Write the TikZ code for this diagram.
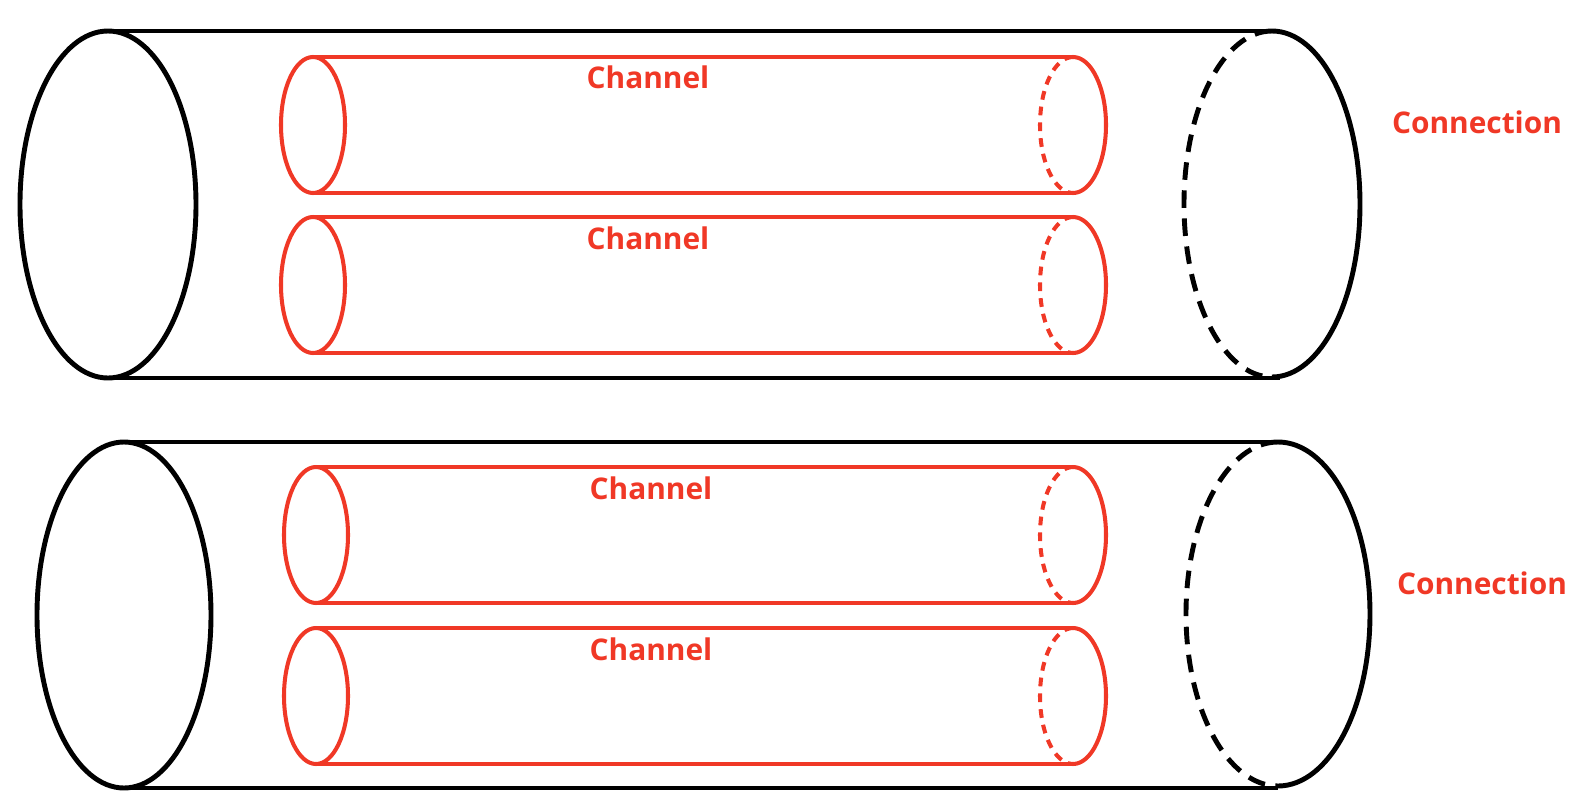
\documentclass[tikz,border=0pt]{standalone}
\usepackage{fontspec}
\setmainfont{Open Sans}
\definecolor{chred}{RGB}{240,56,38}

\begin{document}
\begin{tikzpicture}[x = 0.02cm, y = -0.02cm,
    outer/.style = {line width = 2.8pt, black},
    pipe/.style = {line width = 2.3pt, chred},
    outerdash/.style = {outer, dash pattern = on 10pt off 6pt},
    pipedash/.style = {pipe, dash pattern = on 5pt off 4pt},
    lbl/.style = {chred, font = \bfseries\fontsize{17}{20}\selectfont}]
  \useasboundingbox (0,0) rectangle (1570,812);
  % outer cylinders
  \draw [outer] (108,31) -- (1272,31);
  \draw [outer] (108,378) -- (1280,378);
  \draw [outer] (108,204.5) ellipse [x radius = 88, y radius = 173.5];
  \draw [outer] (1272,31) arc [start angle = -90, end angle = 90,
    x radius = 88, y radius = 173];
  \draw [outerdash] (1272,31) arc [start angle = -90, end angle = -270,
    x radius = 88, y radius = 173];
  \draw [outer] (124,442) -- (1278,442);
  \draw [outer] (124,788) -- (1278,788);
  \draw [outer] (124,615) ellipse [x radius = 87, y radius = 173];
  \draw [outer] (1278,442) arc [start angle = -90, end angle = 90,
    x radius = 92, y radius = 172];
  \draw [outerdash] (1278,442) arc [start angle = -90, end angle = -270,
    x radius = 92, y radius = 172];
  % channels
  \foreach \lx/\cy in {313/125, 313/285, 316/535, 316/696} {
    \draw [pipe] (\lx,\cy-68) -- (1073,\cy-68);
    \draw [pipe] (\lx,\cy+68) -- (1073,\cy+68);
    \draw [pipe] (\lx,\cy) ellipse [x radius = 32, y radius = 68];
    \draw [pipe] (1073,\cy-68) arc [start angle = -90, end angle = 90,
      x radius = 33, y radius = 68];
    \draw [pipedash] (1073,\cy-68) arc [start angle = -90, end angle = -270,
      x radius = 33, y radius = 68];
  }
  \node [lbl] (chan-a) at (648,77) {Channel};
  \node [lbl] (chan-b) at (648,238) {Channel};
  \node [lbl] (chan-c) at (651,488) {Channel};
  \node [lbl] (chan-d) at (651,649) {Channel};
  \node [lbl] (conn-a) at (1477,122) {Connection};
  \node [lbl] (conn-b) at (1482,583) {Connection};
\end{tikzpicture}
\end{document}
